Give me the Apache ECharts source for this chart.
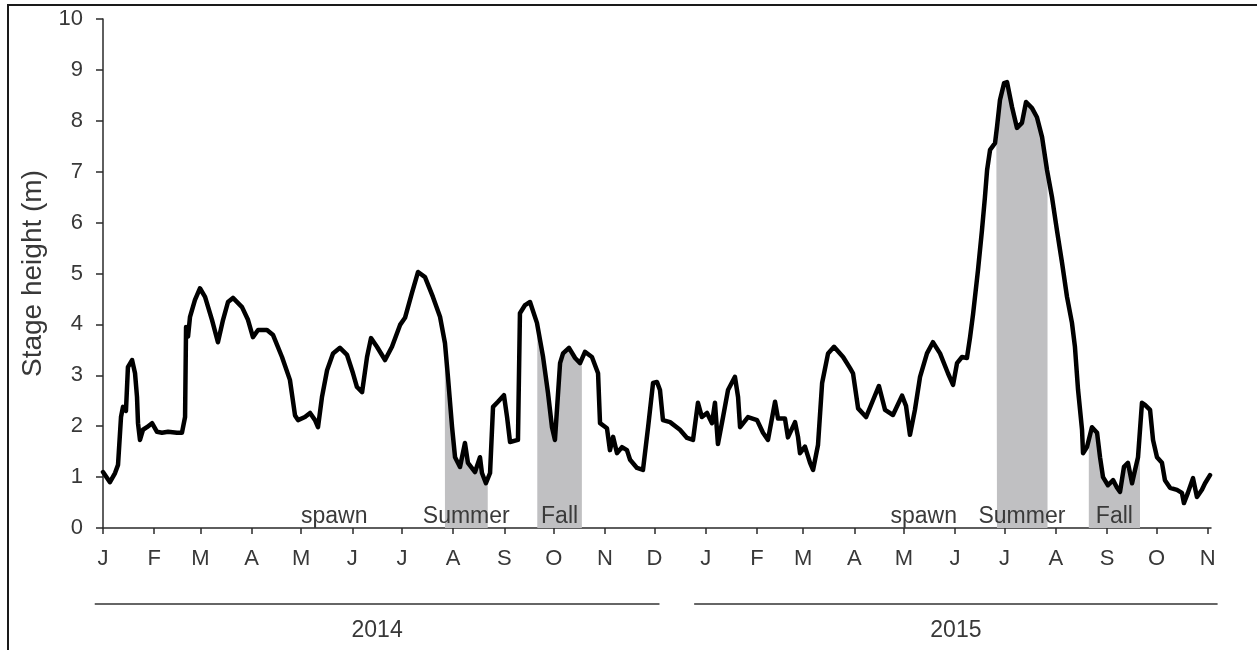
<!DOCTYPE html>
<html>
<head>
<meta charset="utf-8">
<script src="https://cdn.jsdelivr.net/npm/echarts@6/dist/echarts.min.js"></script>
<style>
html,body{margin:0;padding:0;background:#fff;}
#chart{width:1257px;height:650px;}
</style>
</head>
<body>
<div id="chart"></div>
<script>
// ---- data ----
const recordStart = '2014-01-01';
const recordEnd = '2015-11-03';
// days since 1 Jan 2014
const days = [0,1.2,4.2,7.3,9.1,10.9,12.1,13.9,15.1,17.6,19.4,20.6,21.2,22.4,24.2,26.6,29.7,32.7,35.7,39.4,44.8,47.8,49.7,50.3,51.5,52.7,55.7,58.7,61.8,66.0,69.6,72.7,75.7,78.7,84.2,87.8,90.8,93.9,99.3,103.0,108.4,113.2,116.3,118.1,122.3,125.4,128.4,130.2,132.6,135.7,139.3,143.5,147.8,151.4,153.8,156.9,159.9,162.3,165.9,170.8,175.0,179.9,182.9,187.1,190.8,195.0,199.8,204.1,207.1,208.9,211.4,213.2,216.2,219.2,221.0,225.3,228.3,229.5,231.9,234.4,236.2,239.2,242.8,244.7,246.5,251.3,252.5,255.6,258.6,262.8,266.5,269.5,271.9,273.7,276.8,278.6,282.2,285.9,288.9,291.9,296.1,299.8,301.0,305.2,307.0,308.9,311.3,314.3,317.3,319.2,323.4,327.0,330.1,333.1,335.5,337.3,339.1,343.4,349.4,353.7,357.3,360.3,362.7,365.8,368.8,370.6,372.4,375.5,378.5,382.7,384.6,385.8,390.6,396.1,399.7,402.7,407.0,408.8,413.0,414.8,419.1,420.9,422.1,425.1,428.2,430.0,433.0,435.5,439.1,442.7,448.2,452.4,454.2,457.3,462.1,466.3,469.9,473.6,478.4,483.9,486.3,488.7,491.7,494.8,499.0,502.6,506.9,511.7,514.8,517.2,520.2,523.2,525.1,526.9,529.9,532.3,534.1,535.4,537.2,540.2,541.4,543.2,545.7,547.5,550.5,553.5,556.5,559.0,562.6,565.6,568.7,571.7,574.7,577.7,580.8,583.8,586.8,588.6,590.5,592.9,593.5,595.9,598.9,602.0,603.8,605.6,608.6,611.7,614.1,615.9,618.3,620.7,623.2,625.0,626.8,629.2,631.0,634.1,635.9,638.3,641.3,643.1,646.2,650.4,653.4,654.6,657.0,660.1,662.5,665.5,667.4,670.4];
const stage = [1.10,1.08,0.90,1.08,1.24,2.18,2.38,2.30,3.16,3.30,3.04,2.57,2.06,1.73,1.93,1.98,2.06,1.89,1.87,1.89,1.87,1.87,2.18,3.95,3.76,4.15,4.48,4.71,4.54,4.09,3.65,4.09,4.44,4.52,4.34,4.09,3.75,3.89,3.89,3.79,3.36,2.91,2.21,2.12,2.18,2.26,2.12,1.98,2.57,3.10,3.43,3.54,3.40,3.04,2.77,2.67,3.36,3.73,3.56,3.30,3.56,3.99,4.13,4.62,5.03,4.93,4.54,4.15,3.63,2.97,1.98,1.39,1.20,1.67,1.28,1.10,1.39,1.08,0.88,1.08,2.38,2.48,2.61,2.18,1.69,1.73,4.22,4.38,4.44,4.03,3.36,2.65,1.98,1.73,3.24,3.43,3.54,3.34,3.24,3.46,3.36,3.04,2.06,1.96,1.53,1.79,1.47,1.59,1.53,1.34,1.18,1.14,1.98,2.85,2.87,2.71,2.12,2.08,1.93,1.77,1.73,2.46,2.18,2.26,2.06,2.46,1.65,2.18,2.71,2.97,2.57,1.98,2.18,2.12,1.87,1.73,2.48,2.15,2.15,1.78,2.08,1.79,1.47,1.60,1.28,1.14,1.63,2.85,3.43,3.56,3.36,3.14,3.04,2.35,2.18,2.51,2.79,2.32,2.22,2.60,2.40,1.83,2.32,2.97,3.43,3.65,3.43,3.04,2.81,3.24,3.36,3.34,3.75,4.20,5.07,5.85,6.50,7.03,7.43,7.56,7.88,8.41,8.74,8.76,8.27,7.86,7.96,8.37,8.25,8.07,7.68,7.03,6.50,5.85,5.21,4.54,4.03,3.56,2.71,1.93,1.47,1.59,1.98,1.87,1.39,1.00,0.84,0.94,0.79,0.71,1.20,1.28,0.88,1.14,1.39,2.46,2.42,2.32,1.73,1.39,1.28,0.94,0.79,0.75,0.69,0.49,0.69,0.98,0.61,0.75,0.88,1.04];
const monthLabels = ['J','F','M','A','M','J','J','A','S','O','N','D','J','F','M','A','M','J','J','A','S','O','N'];
const spawnWindows = [['2014-05-01','2014-06-10'],['2015-04-23','2015-06-02']];
const summerWindows = [['2014-07-27','2014-08-22'],['2015-06-26','2015-07-27']];
const fallWindows = [['2014-09-21','2014-10-18'],['2015-08-21','2015-09-21']];
const yearLabels = ['2014','2015'];
const yearSpans = [['2013-12-27','2014-12-04'],['2014-12-25','2015-11-07']];

// ---- build ----
const DAY = 86400000;
const t0 = Date.parse(recordStart);
const xs = days.map(d => t0 + d * DAY);
const lineData = xs.map((t, i) => [t, stage[i]]);
const tickValues = monthLabels.map((_, i) => Date.UTC(2014, i, 1));

function valueAt(t) {
  for (let i = 0; i < xs.length - 1; i++) {
    if (t >= xs[i] && t <= xs[i + 1]) {
      const f = (t - xs[i]) / (xs[i + 1] - xs[i]);
      return stage[i] + f * (stage[i + 1] - stage[i]);
    }
  }
  return stage[stage.length - 1];
}
function windowData(w) {
  const a = Date.parse(w[0]), b = Date.parse(w[1]);
  const out = [[a, valueAt(a)]];
  xs.forEach((t, i) => { if (t > a && t < b) out.push([t, stage[i]]); });
  out.push([b, valueAt(b)]);
  return out;
}
const shadeSeries = summerWindows.concat(fallWindows).map(w => ({
  type: 'line',
  data: windowData(w),
  symbol: 'none',
  silent: true,
  lineStyle: { width: 0 },
  areaStyle: { color: '#c0c0c2', opacity: 1, origin: 'start' },
  z: 1
}));

const markAreas = [];
spawnWindows.forEach(w => markAreas.push([{ xAxis: Date.parse(w[0]), name: 'spawn' }, { xAxis: Date.parse(w[1]) }]));
summerWindows.forEach(w => markAreas.push([{ xAxis: Date.parse(w[0]), name: 'Summer' }, { xAxis: Date.parse(w[1]) }]));
fallWindows.forEach(w => markAreas.push([{ xAxis: Date.parse(w[0]), name: 'Fall' }, { xAxis: Date.parse(w[1]) }]));

const FONT = '"Liberation Sans", Arial, sans-serif';
const chart = echarts.init(document.getElementById('chart'));
const option = {
  animation: false,
  backgroundColor: '#fff',
  textStyle: { fontFamily: FONT },
  grid: { left: 103, right: 46, top: 19, bottom: 122 },
  xAxis: {
    type: 'value',
    min: t0,
    max: Date.parse(recordEnd),
    splitLine: { show: false },
    axisLine: { lineStyle: { color: '#2a2a2a', width: 1.5 } },
    axisTick: { show: true, customValues: tickValues, length: 6, lineStyle: { color: '#2a2a2a', width: 1.5 } },
    axisLabel: {
      customValues: tickValues,
      formatter: v => monthLabels[tickValues.indexOf(v)] || '',
      fontSize: 22, color: '#383838', margin: 20, fontFamily: FONT
    }
  },
  yAxis: {
    type: 'value', min: 0, max: 10, interval: 1,
    name: 'Stage height (m)', nameLocation: 'middle', nameGap: 49,
    nameTextStyle: { fontSize: 28, color: '#383838', fontFamily: FONT },
    splitLine: { show: false },
    axisLine: { show: true, lineStyle: { color: '#2a2a2a', width: 1.5 } },
    axisTick: { show: true, length: 7, lineStyle: { color: '#2a2a2a', width: 1.5 } },
    axisLabel: { fontSize: 22, color: '#383838', margin: 20, fontFamily: FONT }
  },
  series: shadeSeries.concat([{
    type: 'line',
    data: lineData,
    symbol: 'none',
    silent: true,
    lineStyle: { color: '#000', width: 4.5, join: 'round', cap: 'round' },
    z: 3,
    markArea: {
      silent: true,
      itemStyle: { color: 'rgba(0,0,0,0)' },
      label: { show: true, position: 'insideBottom', distance: 0, fontSize: 23, color: '#3a3a3a', fontFamily: FONT },
      data: markAreas
    }
  }])
};
chart.setOption(option);

// decorations: border, year bars & labels (positions derived from axis)
const yBase = chart.convertToPixel({ yAxisIndex: 0 }, 0);
const graphics = [{
  type: 'rect', shape: { x: 8, y: 5, width: 1262, height: 700 },
  style: { fill: null, stroke: '#1a1a1a', lineWidth: 2 }, silent: true
}];
yearSpans.forEach((s, i) => {
  const x1 = chart.convertToPixel({ xAxisIndex: 0 }, Date.parse(s[0]));
  const x2 = chart.convertToPixel({ xAxisIndex: 0 }, Date.parse(s[1]));
  graphics.push({ type: 'line', shape: { x1: x1, y1: yBase + 76, x2: x2, y2: yBase + 76 },
    style: { stroke: '#333', lineWidth: 1.5 }, silent: true });
  graphics.push({ type: 'text', x: (x1 + x2) / 2, y: yBase + 103,
    style: { text: yearLabels[i], fill: '#383838', fontSize: 23, fontFamily: FONT, align: 'center', verticalAlign: 'middle' }, silent: true });
});
chart.setOption({ graphic: graphics });
</script>
</body>
</html>
